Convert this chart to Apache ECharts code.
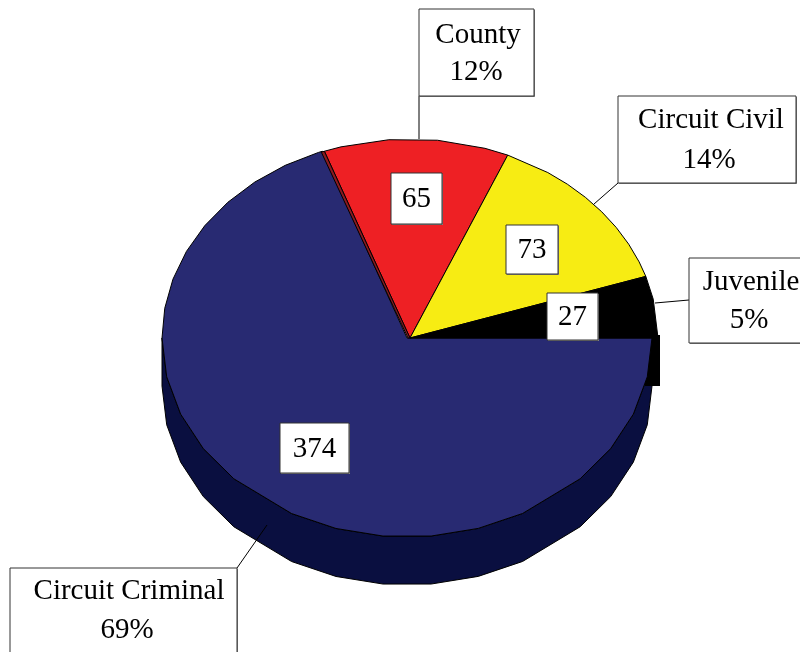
<!DOCTYPE html>
<html>
<head>
<meta charset="utf-8">
<style>html,body{margin:0;padding:0;background:#fff;overflow:hidden}#chart{width:800px;height:652px}</style>
<script src="https://cdn.jsdelivr.net/npm/echarts@6/dist/echarts.min.js"></script>
</head>
<body>
<div id="chart"></div>
<script>
// data
var categories = ['Circuit Criminal', 'County', 'Circuit Civil', 'Juvenile'];
var values = [374, 65, 73, 27];

var total = values.reduce(function (a, b) { return a + b; }, 0);
var font = '29px "Liberation Serif"';
var depth = 48;

function range(a, b, step) {
    var out = [];
    for (var t = a; t <= b + 0.01; t += step) out.push(t);
    return out;
}

// the pie outline is faceted, these are the angles of the corners
var bigFacets = range(111.2, 180, 8.6)
    .concat(range(180, 225, 11.25))
    .concat(range(241.9, 298.2, 11.25))
    .concat(range(315, 360, 11.25));

// slice looks: the three small slices sit a little to the right of the big one
var looks = [
    { top: '#282a72', side: '#0a0f40', dx: 0, kx: 1, facets: bigFacets },
    { top: '#ee2024', dx: 3 / 245, kx: 248 / 245, facets: range(72.4, 106.2, 11.25) },
    { top: '#f7ec13', dx: 3 / 245, kx: 248 / 245, facets: range(22.5, 60, 5.625) },
    { top: '#000000', dx: 3 / 245, kx: 248 / 245, facets: [11.25] }
];

// boxes: value box [x, y, w, h], callout box, text centre x, text line y, leader line
var boxes = [
    { val: [280, 423, 69, 50], call: [10, 568, 227, 100], tx: 129, ty: [591, 630], lead: [237, 568, 267, 525] },
    { val: [391, 173, 51, 51], call: [419, 9, 115, 87], tx: 478, ty: [35, 72], lead: [419, 96, 419, 139] },
    { val: [506, 225, 52, 49], call: [618, 96, 178, 87], tx: 711, ty: [120, 160], lead: [618, 183, 594, 204] },
    { val: [547, 293, 51, 47], call: [689, 258, 130, 85], tx: 751, ty: [282, 320], lead: [689, 300, 655, 303] }
];

function rad(d) { return d * Math.PI / 180; }

// slices run clockwise, starting from the east side
function sliceAngles(i) {
    var end = 360;
    for (var j = 0; j < i; j++) end -= values[j] / total * 360;
    return [end - values[i] / total * 360, end];
}

function corners(a, b, facets) {
    var inner = facets.filter(function (t) { return t > a + 0.5 && t < b - 0.5; });
    return [a].concat(inner, [b]);
}

function boxEls(rect, z) {
    return [
        { type: 'rect', z2: z, shape: { x: rect[0] + 1, y: rect[1] + 1, width: rect[2], height: rect[3] }, style: { fill: '#808080' } },
        { type: 'rect', z2: z, shape: { x: rect[0], y: rect[1], width: rect[2], height: rect[3] }, style: { fill: '#fff', stroke: '#333', lineWidth: 1 } }
    ];
}

function textEl(str, x, y, z) {
    return { type: 'text', z2: z, style: { text: str, x: x, y: y, font: font, fill: '#000', align: 'center', verticalAlign: 'middle' } };
}

function renderSlice(params, api) {
    var i = params.dataIndex;
    var look = looks[i];
    var box = boxes[i];
    var ang = sliceAngles(i);
    var pt = function (t) {
        return api.coord([look.dx + look.kx * Math.cos(rad(t)), Math.sin(rad(t))]);
    };
    var els = [];
    var centre = api.coord([look.dx, 0]);

    var pts = [centre].concat(corners(ang[0], ang[1], look.facets).map(pt));
    els.push({ type: 'polygon', z2: 30, shape: { points: pts }, style: { fill: look.top, stroke: '#000', lineWidth: 1 } });

    if (look.side) {
        // rim of the big slice
        var low = corners(180, 360, look.facets).map(pt);
        var rim = low.concat(low.slice().reverse().map(function (p) { return [p[0], p[1] + depth]; }));
        els.push({ type: 'polygon', z2: 10, shape: { points: rim }, style: { fill: look.side, stroke: '#000', lineWidth: 1 } });
    }
    if (categories[i] === 'County') {
        // thin dark face showing along the left edge
        var a = pt(ang[1]);
        els.push({
            type: 'polygon', z2: 35,
            shape: { points: [[centre[0] - 2, centre[1]], [a[0] - 3, a[1] + 1], a, centre] },
            style: { fill: '#8b1a20', stroke: '#000', lineWidth: 1 }
        });
    }
    if (categories[i] === 'Juvenile') {
        // black rim stub behind the big slice
        var e = pt(ang[0]);
        els.push({
            type: 'rect', z2: 20,
            shape: { x: e[0] - 13, y: e[1] - 3, width: 15, height: depth + 3 },
            style: { fill: '#000' }
        });
    }

    // value box
    els = els.concat(boxEls(box.val, 50));
    els.push(textEl(String(values[i]), box.val[0] + box.val[2] / 2, box.val[1] + box.val[3] / 2 + 1, 51));

    // leader and callout
    els.push({
        type: 'line', z2: 55,
        shape: { x1: box.lead[0], y1: box.lead[1], x2: box.lead[2], y2: box.lead[3] },
        style: { stroke: '#000', lineWidth: 1 }
    });
    els = els.concat(boxEls(box.call, 60));
    els.push(textEl(categories[i], box.tx, box.ty[0], 61));
    els.push(textEl(Math.round(values[i] / total * 100) + '%', box.tx - 2, box.ty[1], 61));

    return { type: 'group', children: els };
}

var myChart = echarts.init(document.getElementById('chart'));
var option = {
    animation: false,
    backgroundColor: '#fff',
    grid: { left: 162, right: 148, top: 139, bottom: 115 },
    xAxis: { type: 'value', min: -1, max: 1, show: false },
    yAxis: { type: 'value', min: -1, max: 1, show: false },
    series: [{
        type: 'custom',
        coordinateSystem: 'cartesian2d',
        clip: false,
        silent: true,
        renderItem: renderSlice,
        data: values.map(function (v, i) { return { name: categories[i], value: [0, 0, v] }; })
    }]
};
myChart.setOption(option);
</script>
</body>
</html>
